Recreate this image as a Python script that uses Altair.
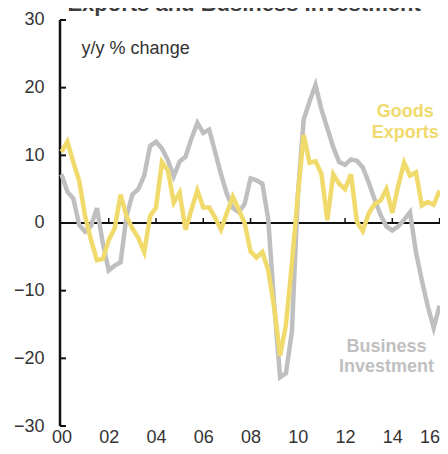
import altair as alt
import pandas as pd

# ---- data (quarterly, y/y % change, 2000Q1 .. 2016Q1) ----
exports = [10.5, 12.0, 9.0, 6.2,
           1.0, -2.5, -5.5, -5.3,
           -2.5, -0.8, 4.2, 1.0,
           -0.8, -2.2, -4.3, 1.0,
           2.3, 9.0, 7.8, 3.0,
           4.5, -1.0, 2.0, 4.8,
           2.3, 2.3, 0.8, -1.0,
           1.5, 3.9, 2.0, 0.0,
           -4.2, -5.1, -4.3, -7.0,
           -12.5, -19.6, -15.0, -6.0,
           4.0, 13.0, 8.9, 9.1,
           7.3, 0.4, 7.2, 5.8,
           5.0, 7.2, 0.2, -1.2,
           1.4, 2.8, 3.3, 5.0,
           1.5, 5.5, 8.9, 7.0,
           7.5, 2.6, 3.1, 2.7,
           4.8]
investment = [7.2, 4.6, 3.6, -0.3,
              -1.3, -0.4, 2.2, -3.0,
              -7.0, -6.3, -5.8, 1.0,
              4.2, 5.0, 7.0, 11.4,
              12.0, 11.0, 9.3, 6.9,
              9.1, 9.8, 12.5, 14.8,
              13.3, 13.8, 10.5, 7.2,
              4.3, 2.2, 1.6, 2.8,
              6.6, 6.3, 5.8, 0.5,
              -12.0, -22.8, -22.2, -16.0,
              4.0, 15.3, 18.0, 20.4,
              16.8, 14.0, 11.2, 9.0,
              8.6, 9.4, 9.2, 8.2,
              6.0, 3.5, 1.2, -0.5,
              -1.1, -0.5, 0.5, 1.6,
              -4.3, -8.5, -12.3, -15.5,
              -12.2]
quarters = [2000 + i / 4 for i in range(len(exports))]
x_tick_years = [2000, 2002, 2004, 2006, 2008, 2010, 2012, 2014, 2016]
inner_x_ticks = [2002, 2004, 2006, 2008, 2010, 2012, 2014, 2016]
y_tick_values = [-30, -20, -10, 0, 10, 20, 30]

title_text = "Exports and Business Investment"
unit_text = "y/y % change"
gold_label = ["Goods", "Exports"]
gray_label = ["Business", "Investment"]

GOLD = "#F0DA6C"
GRAY = "#BFBFC1"
FONT = "Liberation Sans"

# ---- geometry of scales ----
PX_YEAR = 23.63
PX_UNIT = 6.767
W, H = 380, 418
X0 = 2000 - 1.5 / PX_YEAR
X1 = X0 + W / PX_YEAR
Y1 = -30 + H / PX_UNIT

xs = alt.Scale(domain=[X0, X1], nice=False, zero=False)
ys = alt.Scale(domain=[-30, Y1], nice=False, zero=False)
xaxis = alt.Axis(values=x_tick_years, labelExpr="format(datum.value % 100, '02d')",
                 domain=False, ticks=False, grid=False, labelFontSize=18,
                 labelColor="#333333", labelPadding=2, labelFont=FONT, title=None,
                 labelFlush=1, labelOverlap=False, labelBound=False)
yaxis = alt.Axis(values=y_tick_values, domain=False, ticks=False, grid=False,
                 labelFontSize=18, labelColor="#333333", labelPadding=16,
                 labelFont=FONT, title=None, labelOverlap=False)


def X(f, **kw):
    return alt.X(f, type="quantitative", scale=xs, axis=xaxis, **kw)


def Y(f, **kw):
    return alt.Y(f, type="quantitative", scale=ys, axis=yaxis, **kw)


df_exp = pd.DataFrame({"t": quarters, "v": exports})
df_inv = pd.DataFrame({"t": quarters, "v": investment})

zero_df = pd.DataFrame({"x": [X0], "x2": [X1], "y": [0]})
zero_line = alt.Chart(zero_df).mark_rule(color="#111111", strokeWidth=2).encode(
    x=X("x"), x2="x2", y=Y("y"))

yline_df = pd.DataFrame({"x": [X0], "y": [-30], "y2": [30]})
y_line = alt.Chart(yline_df).mark_rule(color="#111111", strokeWidth=2.5).encode(
    x=X("x"), y=Y("y"), y2="y2")

ytick_df = pd.DataFrame({"x": [X0] * len(y_tick_values), "y": y_tick_values})
y_ticks = alt.Chart(ytick_df).mark_rule(color="#111111", strokeWidth=2, x2Offset=6).encode(
    x=X("x"), x2="x", y=Y("y"))

xtick_df = pd.DataFrame({"x": inner_x_ticks, "y": [0] * len(inner_x_ticks)})
x_ticks = alt.Chart(xtick_df).mark_rule(color="#111111", strokeWidth=1.5, y2Offset=-5).encode(
    x=X("x"), y=Y("y"), y2="y")

inv_line = alt.Chart(df_inv).mark_line(color=GRAY, strokeWidth=4.5).encode(
    x=X("t"), y=Y("v"))
exp_line = alt.Chart(df_exp).mark_line(color=GOLD, strokeWidth=4.5).encode(
    x=X("t"), y=Y("v"))

gold_df = pd.DataFrame({"x": [2014.55, 2014.55], "y": [16.4, 13.3], "text": gold_label})
gold_text = alt.Chart(gold_df).mark_text(color=GOLD, fontSize=18, fontWeight="bold",
                                         font=FONT, align="center", baseline="middle").encode(
    x=X("x"), y=Y("y"), text="text")

gray_df = pd.DataFrame({"x": [2013.75, 2013.75], "y": [-18.3, -21.3], "text": gray_label})
gray_text = alt.Chart(gray_df).mark_text(color=GRAY, fontSize=18, fontWeight="bold",
                                         font=FONT, align="center", baseline="middle").encode(
    x=X("x"), y=Y("y"), text="text")

unit_df = pd.DataFrame({"x": [2000.85], "y": [25.7], "text": [unit_text]})
unit_mark = alt.Chart(unit_df).mark_text(color="#333333", fontSize=18, font=FONT,
                                         align="left", baseline="middle").encode(
    x=X("x"), y=Y("y"), text="text")

title_df = pd.DataFrame({"x": [2000.25], "y": [Y1 - 3 / PX_UNIT], "text": [title_text]})
title_mark = alt.Chart(title_df).mark_text(color="#3d3d3d", fontSize=22, fontWeight="bold",
                                           font=FONT, align="left", baseline="alphabetic",
                                           clip=True).encode(
    x=X("x"), y=Y("y"), text="text")

chart = alt.layer(
    zero_line, x_ticks, y_line, y_ticks, inv_line, exp_line,
    gold_text, gray_text, unit_mark, title_mark
).properties(
    width=W, height=H,
    autosize=alt.AutoSizeParams(type="none"),
    padding={"left": 52, "top": 0, "right": 0, "bottom": 20},
    background="white",
).configure_view(stroke=None)

chart.save("out.html", embed_options={"renderer": "svg", "actions": False})
